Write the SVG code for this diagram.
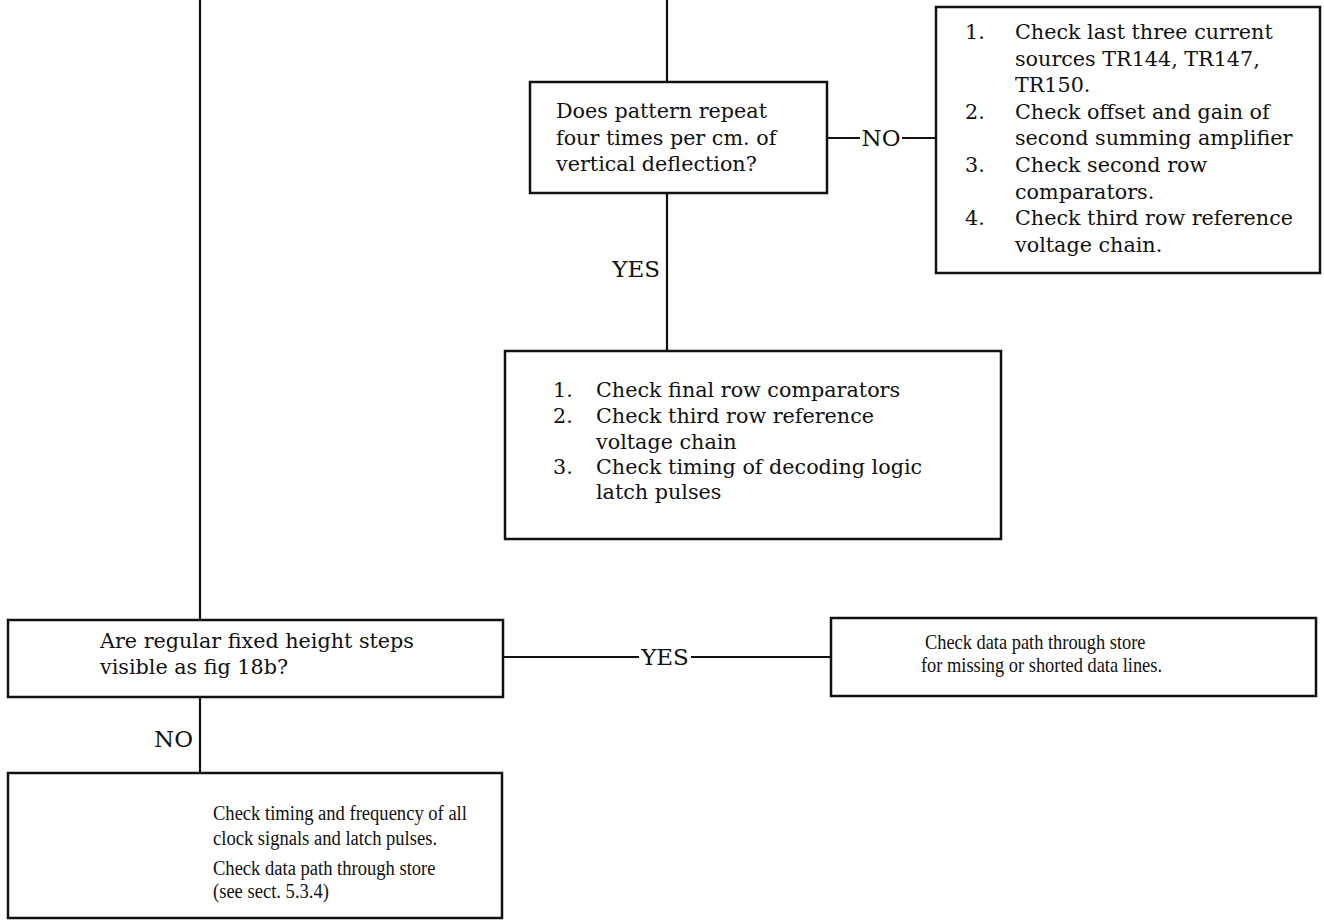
<svg xmlns="http://www.w3.org/2000/svg" width="1324" height="922" viewBox="0 0 1324 922">
  <style>
    .box { fill: #ffffff; stroke: #111111; stroke-width: 2.5; }
    .wire { fill: none; stroke: #111111; stroke-width: 2.2; }
    .t { font-family: "DejaVu Serif", "Liberation Serif", serif; font-size: 20.7px; fill: #111111; }
    .n { font-family: "Liberation Serif", "DejaVu Serif", serif; font-size: 20px; fill: #111111; }
    .lbl { font-family: "DejaVu Serif", "Liberation Serif", serif; font-size: 23px; fill: #111111; }
  </style>
  <rect width="1324" height="922" fill="#ffffff"/>

  <!-- flow lines and branch labels -->
  <g id="connectors">
    <path class="wire" d="M200 0 V620"/>
    <path class="wire" d="M200 697 V773"/>
    <path class="wire" d="M667 0 V82"/>
    <path class="wire" d="M667 193 V351"/>
    <path class="wire" d="M827 138 H860 M902 138 H936"/>
    <path class="wire" d="M503 657 H639 M691 657 H831"/>
    <text class="lbl" x="881" y="146" text-anchor="middle">NO</text>
    <text class="lbl" x="660" y="277" text-anchor="end">YES</text>
    <text class="lbl" x="665" y="665" text-anchor="middle">YES</text>
    <text class="lbl" x="193" y="747" text-anchor="end">NO</text>
  </g>

  <g id="q-pattern">
    <rect class="box" x="530" y="82" width="297" height="111"/>
    <text class="t" x="556" y="118">Does pattern repeat</text>
    <text class="t" x="556" y="145">four times per cm. of</text>
    <text class="t" x="556" y="171">vertical deflection?</text>
  </g>

  <g id="act-sources">
    <rect class="box" x="936" y="7" width="384" height="266"/>
    <text class="t" x="965" y="39">1.</text>
    <text class="t" x="1015" y="39">Check last three current</text>
    <text class="t" x="1015" y="65.6">sources TR144, TR147,</text>
    <text class="t" x="1015" y="92.2">TR150.</text>
    <text class="t" x="965" y="118.8">2.</text>
    <text class="t" x="1015" y="118.8">Check offset and gain of</text>
    <text class="t" x="1015" y="145.4">second summing amplifier</text>
    <text class="t" x="965" y="172">3.</text>
    <text class="t" x="1015" y="172">Check second row</text>
    <text class="t" x="1015" y="198.6">comparators.</text>
    <text class="t" x="965" y="225.2">4.</text>
    <text class="t" x="1015" y="225.2">Check third row reference</text>
    <text class="t" x="1015" y="251.8">voltage chain.</text>
  </g>

  <g id="act-final-row">
    <rect class="box" x="505" y="351" width="496" height="188"/>
    <text class="t" x="553" y="397">1.</text>
    <text class="t" x="596" y="397">Check final row comparators</text>
    <text class="t" x="553" y="423">2.</text>
    <text class="t" x="596" y="423">Check third row reference</text>
    <text class="t" x="596" y="449">voltage chain</text>
    <text class="t" x="553" y="474">3.</text>
    <text class="t" x="596" y="474">Check timing of decoding logic</text>
    <text class="t" x="596" y="499">latch pulses</text>
  </g>

  <g id="q-steps">
    <rect class="box" x="8" y="620" width="495" height="77"/>
    <text class="t" x="100" y="648">Are regular fixed height steps</text>
    <text class="t" x="100" y="674">visible as fig 18b?</text>
  </g>

  <g id="act-data-path">
    <rect class="box" x="831" y="618" width="485" height="78"/>
    <!-- narrower typeface in this box: squeeze horizontally about the text's left edge -->
    <g transform="translate(921 0) scale(0.92 1) translate(-921 0)">
      <text class="n" x="925.3" y="649">Check data path through store</text>
      <text class="n" x="921" y="672">for missing or shorted data lines.</text>
    </g>
  </g>

  <g id="act-clock">
    <rect class="box" x="8" y="773" width="494" height="145"/>
    <g transform="translate(213 0) scale(0.928 1) translate(-213 0)">
      <text class="n" x="213" y="820">Check timing and frequency of all</text>
      <text class="n" x="213" y="845">clock signals and latch pulses.</text>
      <text class="n" x="213" y="875">Check data path through store</text>
      <text class="n" x="213" y="898">(see sect. 5.3.4)</text>
    </g>
  </g>
</svg>
